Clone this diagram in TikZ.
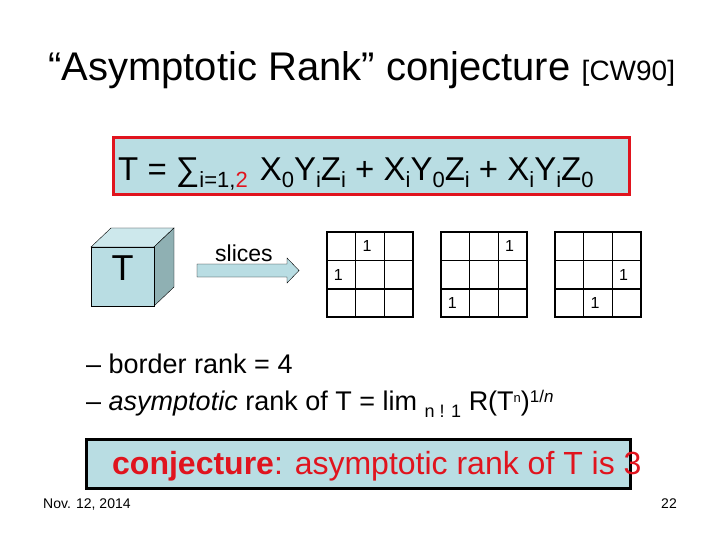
\documentclass[tikz,border=0pt]{standalone}
\usepackage{fontspec}
\setmainfont{Liberation Sans}
\definecolor{lb}{HTML}{B9DDE3}
\definecolor{sidec}{HTML}{8FB0B3}
\definecolor{topc}{HTML}{CDE8EC}
\definecolor{rd}{HTML}{E0141E}
\newcommand{\sbs}[1]{\raisebox{-7pt}{\fontsize{22}{22}\selectfont #1}}
\begin{document}
\begin{tikzpicture}[x=1pt,y=-1pt,
  one/.style={font=\fontsize{16}{16}\selectfont},
  gridln/.style={line width=1.6pt}]
\useasboundingbox (0,0) rectangle (720,540);
% title
\node[anchor=base west,inner sep=0,font=\fontsize{40}{40}\selectfont] (title) at (48,81) {“Asymptotic Rank” conjecture \fontsize{28}{28}\selectfont[CW90]};
% formula box
\node[draw=rd,line width=3pt,fill=lb,minimum width=516pt,minimum height=57pt,anchor=north west,inner sep=0] (fbox) at (112,136) {};
\node[anchor=base west,inner sep=0,font=\fontsize{33}{33}\selectfont] (formula) at (118,181)
 {T = ∑\sbs{i=1,\textcolor{rd}{2}}\hspace{12pt}X\sbs{0}Y\sbs{i}Z\sbs{i} + X\sbs{i}Y\sbs{0}Z\sbs{i} + X\sbs{i}Y\sbs{i}Z\sbs{0}};
% cube
\draw[fill=topc] (91,247) -- (111,228) -- (174,228) -- (154,247) -- cycle;
\draw[fill=sidec] (154,247) -- (174,228) -- (174,287) -- (154,306) -- cycle;
\draw[fill=lb] (91,247) rectangle (154,306);
\node[font=\fontsize{36}{36}\selectfont] (T) at (122.5,268) {T};
% arrow
\draw[fill=lb] (197,264) -- (287,264) -- (287,258) -- (299,270.5) -- (287,283) -- (287,277) -- (197,277) -- cycle;
\node[font=\fontsize{23}{23}\selectfont] (slices) at (244,253) {slices};
% grids
\foreach \gx/\ra/\ca/\rb/\cb in {327/0/1/1/0, 441/0/2/2/0, 555/1/2/2/1}{
  \draw[gridln] (\gx,232) rectangle ++(86,85);
  \draw[gridln] (\gx+28.67,232) -- ++(0,85);
  \draw[gridln] (\gx+57.33,232) -- ++(0,85);
  \draw[gridln] (\gx,260.3) -- ++(86,0);
  \draw[gridln] (\gx,288.7) -- ++(86,0);
  \node[one] at (\gx+14.3+28.67*\ca-3,232+14.2+28.33*\ra) {1};
  \node[one] at (\gx+14.3+28.67*\cb-3,232+14.2+28.33*\rb) {1};
}
% bullets
\node[anchor=base west,inner sep=0,font=\fontsize{27}{27}\selectfont] (b1) at (86,373) {– border rank = 4};
\node[anchor=base west,inner sep=0,font=\fontsize{27}{27}\selectfont] (b2) at (86,410)
 {– \textit{asymptotic} rank of T = lim \raisebox{-7pt}{\fontsize{18}{18}\selectfont n ! 1} R(T\raisebox{8pt}{\fontsize{13}{13}\selectfont n})\raisebox{8pt}{\fontsize{17}{17}\selectfont 1/\textit{n}}};
% conjecture box
\node[draw=black,line width=3pt,fill=lb,minimum width=544pt,minimum height=49pt,anchor=north west,inner sep=0] (cbox) at (85,438) {};
\node[anchor=base west,inner sep=0,text=rd,font=\fontsize{32}{32}\selectfont] (conj) at (112,474) {\textbf{conjecture}: asymptotic rank of T is 3};
% footer
\node[anchor=base west,inner sep=0,font=\fontsize{14}{14}\selectfont] (date) at (43,508) {Nov. 12, 2014};
\node[anchor=base east,inner sep=0,font=\fontsize{14}{14}\selectfont] (pg) at (677,508) {22};
\end{tikzpicture}
\end{document}
